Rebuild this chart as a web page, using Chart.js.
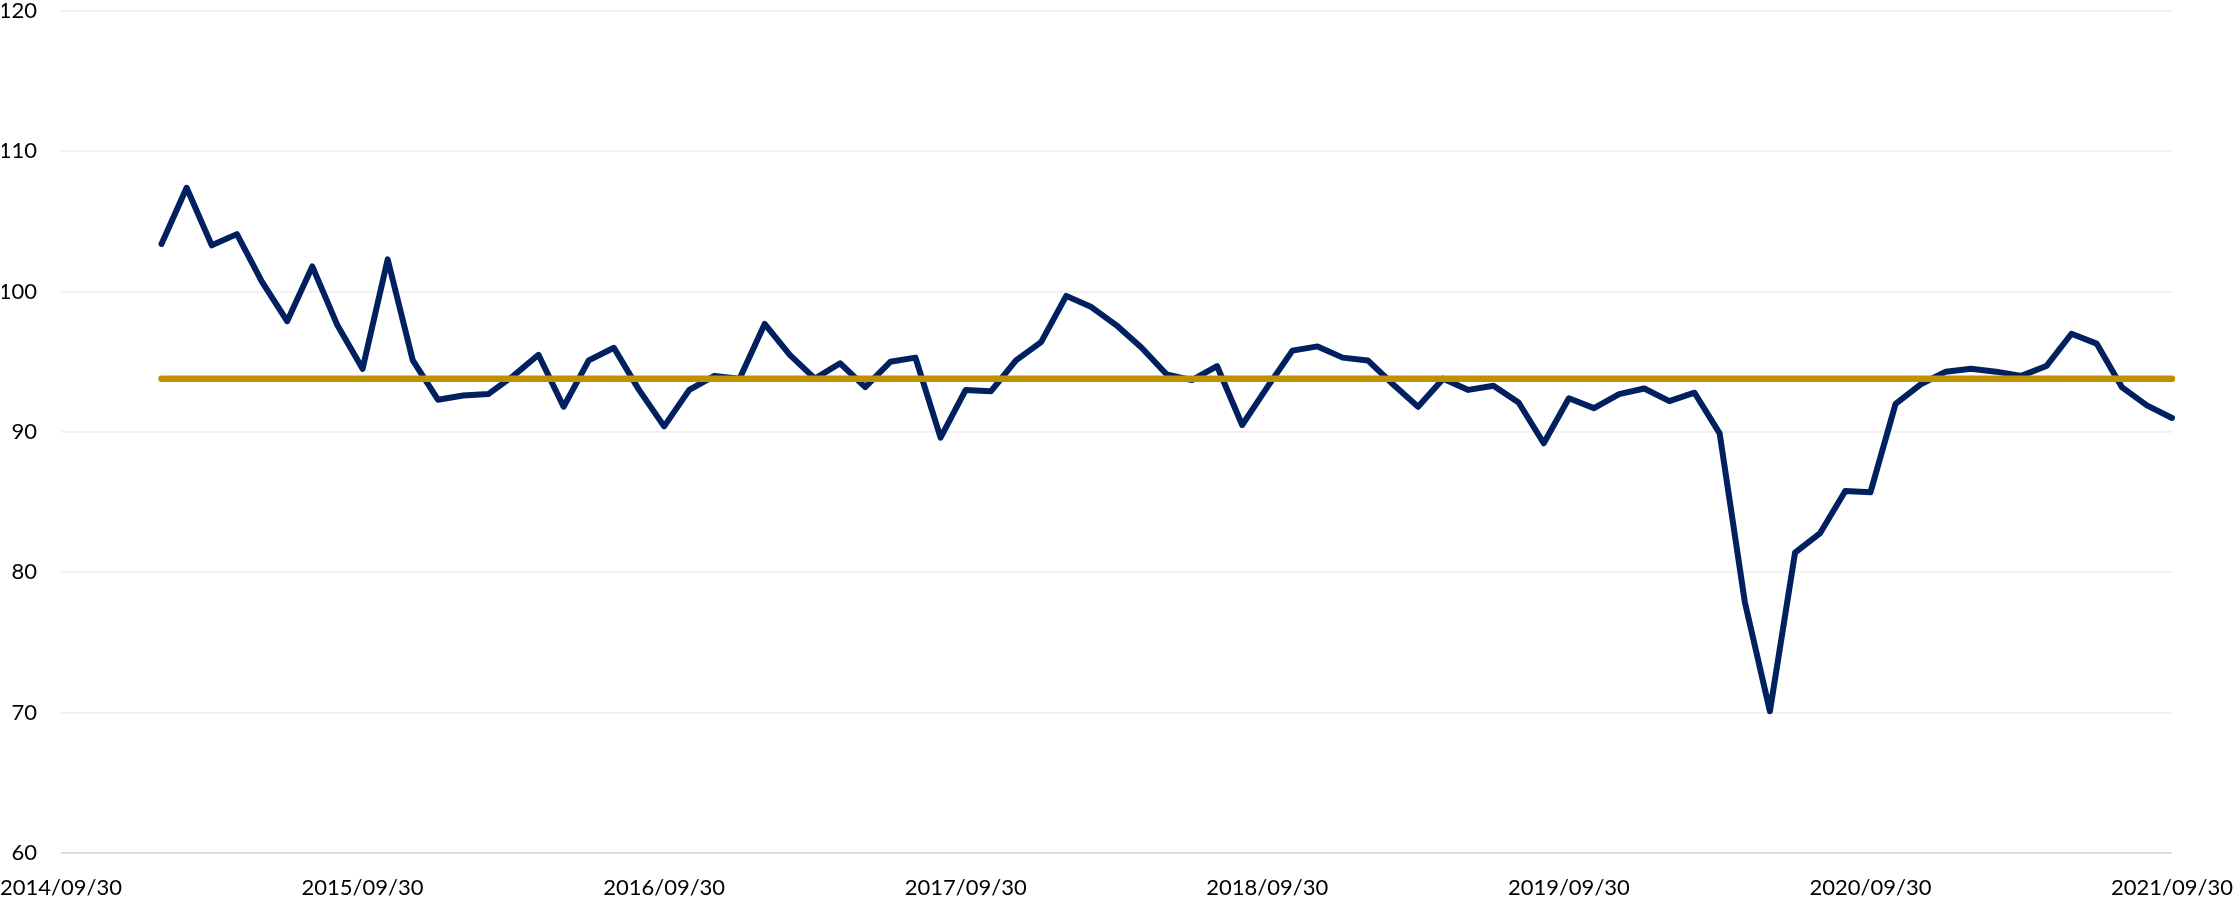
<!DOCTYPE html>
<html lang="en">
  <head>
    <meta charset="UTF-8" />
    <title>Index</title>
    <style>
      html, body { margin: 0; padding: 0; background: #fff; overflow: hidden; }
      #wrap { width: 2233px; height: 898px; }
    </style>
  </head>
  <body>
    <div id="wrap"><canvas id="line"></canvas></div>
    <script src="https://cdn.jsdelivr.net/npm/chart.js"></script>
    <script>
      // axis: month ends from 2014/09/30 to 2021/09/30, ticks every 12 months
      const startYear = 2014, startMonth = 9, monthCount = 85;
      const tickEvery = 12;
      // index series, monthly, 2015/01 .. 2021/09
      const firstIndex = 4;
      const indexValues = [
        103.4, 107.4, 103.3, 104.1, 100.7, 97.9, 101.8, 97.6, 94.5, 102.3,
        95.1, 92.3, 92.6, 92.7, 94.0, 95.5, 91.8, 95.1, 96.0, 93.0,
        90.4, 93.0, 94.0, 93.8, 97.7, 95.5, 93.8, 94.9, 93.2, 95.0,
        95.3, 89.6, 93.0, 92.9, 95.1, 96.4, 99.7, 98.9, 97.6, 96.0,
        94.1, 93.7, 94.7, 90.5, 93.2, 95.8, 96.1, 95.3, 95.1, 93.4,
        91.8, 93.8, 93.0, 93.3, 92.1, 89.2, 92.4, 91.7, 92.7, 93.1,
        92.2, 92.8, 89.9, 77.9, 70.1, 81.4, 82.8, 85.8, 85.7, 92.0,
        93.4, 94.3, 94.5, 94.3, 94.0, 94.7, 97.0, 96.3, 93.2, 91.9, 91.0,
      ];
      const averageValue = 93.8;

      const labels = [];
      for (let i = 0; i < monthCount; i++) {
        const y = startYear + Math.floor((startMonth - 1 + i) / 12);
        const m = ((startMonth - 1 + i) % 12) + 1;
        const d = new Date(y, m, 0).getDate();
        labels.push(`${y}/${String(m).padStart(2, "0")}/${d}`);
      }

      const seriesData = labels.map((_, i) =>
        i >= firstIndex ? indexValues[i - firstIndex] : null
      );
      const lastIndex = firstIndex + indexValues.length - 1;
      const averageData = labels.map((_, i) =>
        i === firstIndex || i === lastIndex ? averageValue : null
      );

      const font = { family: "Lato", size: 22, lineHeight: 1 };

      Chart.defaults.font.family = "Lato";
      Chart.defaults.color = "#000";

      // tick padding is done with invisible tick marks, so it does not
      // widen the chart area margins
      const lineChart = new Chart(document.getElementById("line"), {
        type: "line",
        data: {
          labels: labels,
          datasets: [
            {
              label: "Average",
              data: averageData,
              borderColor: "#bf9000",
              borderWidth: 6.5,
              borderCapStyle: "round",
              pointRadius: 0,
              spanGaps: true,
            },
            {
              label: "Index",
              data: seriesData,
              borderColor: "#002060",
              borderWidth: 6,
              borderCapStyle: "round",
              borderJoinStyle: "round",
              pointRadius: 0,
              tension: 0,
            },
          ],
        },
        options: {
          responsive: true,
          maintainAspectRatio: false,
          animation: false,
          layout: { padding: { top: 0, right: -3, bottom: 0, left: 0 } },
          plugins: { legend: { display: false }, tooltip: { enabled: false } },
          scales: {
            x: {
              grid: {
                display: true,
                color: "rgba(0,0,0,0)",
                drawTicks: true,
                tickLength: 24,
                tickColor: "rgba(0,0,0,0)",
              },
              border: { display: false },
              ticks: {
                autoSkip: false,
                maxRotation: 0,
                padding: 0,
                font: font,
                color: "#000",
                callback: (v, i) => (i % tickEvery === 0 ? labels[i] : ""),
              },
              afterFit: (s) => { s.height = 45; },
            },
            y: {
              min: 60,
              max: 120,
              ticks: { stepSize: 10, padding: 0, font: font, color: "#000" },
              grid: {
                drawTicks: true,
                tickLength: 24,
                tickColor: "rgba(0,0,0,0)",
                lineWidth: 1.7,
                color: (ctx) => (ctx.tick.value === 60 ? "#d9d9d9" : "#efefef"),
              },
              border: { display: false },
              afterFit: (s) => { s.width = 59; },
            },
          },
        },
      });
    </script>
  </body>
</html>
